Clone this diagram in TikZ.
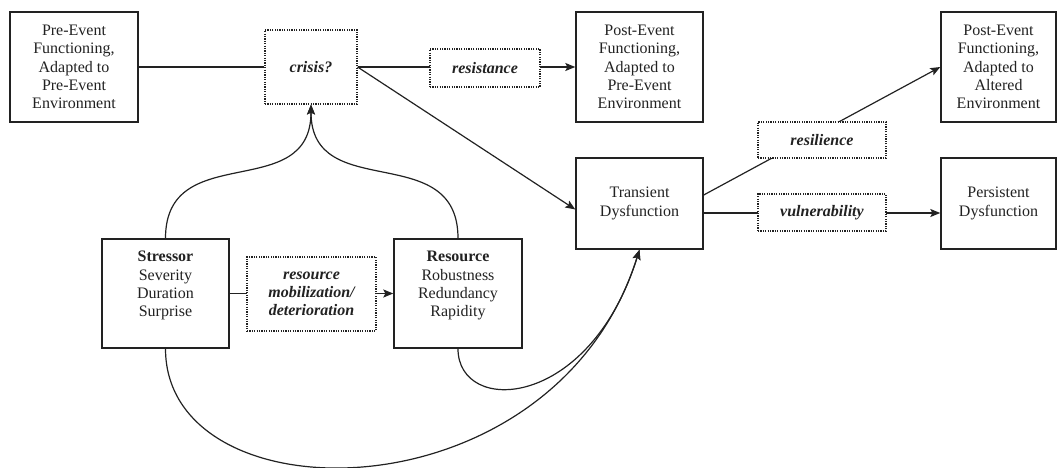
\documentclass[tikz,border=0pt]{standalone}
\usepackage{fontspec}
\setmainfont{Liberation Serif}
\usetikzlibrary{arrows.meta,backgrounds}
\definecolor{ink}{HTML}{222222}
% raise a stacked block of lines without changing its box size
\newcommand{\liftup}[1]{\raisebox{8pt}[\height][\depth]{\begin{tabular}{@{}c@{}}#1\end{tabular}}}

\begin{document}
\begin{tikzpicture}[x=1pt,y=-1pt,
  box/.style={draw=ink, line width=1.4pt, fill=white, text=ink, align=center,
    font=\fontsize{16}{18.3}\selectfont, inner sep=0pt},
  tag/.style={draw=ink, line width=1.1pt, dash pattern=on 1.2pt off 1.2pt, fill=white,
    text=ink, align=center, font=\fontsize{16}{18.3}\selectfont\bfseries\itshape, inner sep=0pt},
  link/.style={draw=ink, line width=1.2pt},
  arr/.style={link, -{Stealth[length=10pt,width=8pt,inset=2pt]}}]

\useasboundingbox (0,0) rectangle (1058,468);

% top row
\node[box, minimum width=128pt, minimum height=110pt] (pre) at (74,67)
  {Pre-Event\\Functioning,\\Adapted to\\Pre-Event\\Environment};
\node[tag, minimum width=92pt, minimum height=74pt] (crisis) at (311,67) {crisis?};
\node[tag, minimum width=110pt, minimum height=38pt] (resist) at (485,68) {resistance};
\node[box, minimum width=127pt, minimum height=110pt] (postpre) at (639.5,67)
  {Post-Event\\Functioning,\\Adapted to\\Pre-Event\\Environment};
\node[box, minimum width=115pt, minimum height=110pt] (postalt) at (998.5,67)
  {Post-Event\\Functioning,\\Adapted to\\Altered\\Environment};

% middle row
\node[tag, minimum width=128pt, minimum height=36pt] (resil) at (822,140) {resilience};
\node[box, minimum width=127pt, minimum height=91pt] (trans) at (639.5,203.5) {Transient\\Dysfunction};
\node[tag, minimum width=128pt, minimum height=37pt] (vuln) at (822,212.5) {vulnerability};
\node[box, minimum width=115pt, minimum height=91pt] (persist) at (998.5,203.5) {Persistent\\Dysfunction};

% bottom row
\node[box, minimum width=127pt, minimum height=109pt] (stress) at (165.5,293.5)
  {\liftup{\textbf{Stressor}\\Severity\\Duration\\Surprise}};
\node[tag, minimum width=129pt, minimum height=74pt] (mob) at (311.5,294)
  {resource\\mobilization/\\deterioration};
\node[box, minimum width=128pt, minimum height=109pt] (resrc) at (458,293.5)
  {\liftup{\textbf{Resource}\\Robustness\\Redundancy\\Rapidity}};

% connectors run underneath the labelled boxes
\begin{scope}[on background layer]
  \draw[link] (pre.east) -- (crisis.west);
  \draw[arr] (crisis.east) -- (postpre.west);
  \draw[arr] (crisis.east) -- ([yshift=-6pt]trans.west);
  \draw[arr] ([yshift=8.5pt]trans.east) -- (postalt.west);
  \draw[arr] ([yshift=-9.5pt]trans.east) -- ([yshift=-9.5pt]persist.west);
  \draw[arr] (stress.east) -- (resrc.west);
  \draw[arr] (stress.north) .. controls +(0,-100) and +(0,100) .. (crisis.south);
  \draw[arr] (resrc.north) .. controls +(0,-100) and +(0,100) .. (crisis.south);
  \draw[arr] (stress.south) .. controls +(0,172) and +(-85,271) .. (trans.south);
  \draw[arr] (resrc.south) .. controls +(0,67) and +(-50,161) .. (trans.south);
\end{scope}
\end{tikzpicture}
\end{document}
